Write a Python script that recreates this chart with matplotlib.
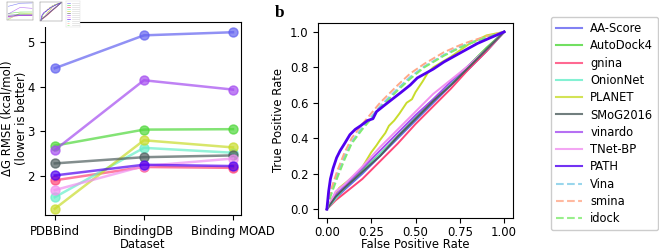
import matplotlib
matplotlib.use("Agg")
import matplotlib.pyplot as plt
from matplotlib.patches import Rectangle
from matplotlib.lines import Line2D

# ---------------- data ----------------
datasets = ["PDBBind", "BindingDB", "Binding MOAD"]
methods_a = ["AA-Score", "AutoDock4", "gnina", "OnionNet", "PLANET",
             "SMoG2016", "vinardo", "TNet-BP", "PATH"]
rmse_aa_score = [4.42, 5.16, 5.23]
rmse_autodock4 = [2.68, 3.04, 3.05]
rmse_gnina = [1.90, 2.20, 2.18]
rmse_onionnet = [1.52, 2.63, 2.52]
rmse_planet = [1.26, 2.80, 2.64]
rmse_smog2016 = [2.28, 2.42, 2.46]
rmse_vinardo = [2.58, 4.15, 3.94]
rmse_tnet_bp = [1.68, 2.22, 2.39]
rmse_path = [2.01, 2.25, 2.22]
rmse_values = [rmse_aa_score, rmse_autodock4, rmse_gnina, rmse_onionnet,
               rmse_planet, rmse_smog2016, rmse_vinardo, rmse_tnet_bp, rmse_path]

roc_methods = ["AA-Score", "AutoDock4", "gnina", "OnionNet", "PLANET",
               "SMoG2016", "vinardo", "TNet-BP", "PATH", "Vina", "smina", "idock"]
fpr_diag = [0, 0.05, 0.1, 0.2, 0.3, 0.4, 0.5, 0.6, 0.7, 0.8, 0.9, 1.0]
tpr_aa_score = [0, 0.06, 0.11, 0.20, 0.30, 0.40, 0.50, 0.60, 0.70, 0.79, 0.89, 1.0]
tpr_autodock4 = [0, 0.07, 0.12, 0.22, 0.31, 0.41, 0.51, 0.61, 0.71, 0.81, 0.91, 1.0]
tpr_gnina = [0, 0.05, 0.09, 0.17, 0.27, 0.37, 0.48, 0.58, 0.68, 0.79, 0.89, 1.0]
tpr_onionnet = [0, 0.06, 0.12, 0.21, 0.31, 0.41, 0.52, 0.62, 0.71, 0.81, 0.90, 1.0]
tpr_smog2016 = [0, 0.07, 0.12, 0.21, 0.30, 0.41, 0.51, 0.61, 0.70, 0.80, 0.90, 1.0]
tpr_vinardo = [0, 0.08, 0.13, 0.23, 0.33, 0.43, 0.53, 0.62, 0.72, 0.81, 0.90, 1.0]
tpr_tnet_bp = [0, 0.10, 0.14, 0.24, 0.35, 0.45, 0.55, 0.65, 0.73, 0.81, 0.90, 1.0]

fpr_planet = [0, 0.03, 0.07, 0.12, 0.19, 0.25, 0.28, 0.30, 0.33, 0.35, 0.38, 0.41,
              0.45, 0.48, 0.50, 0.54, 0.57, 0.60, 0.70, 0.80, 0.90, 1.0]
tpr_planet = [0, 0.06, 0.12, 0.16, 0.22, 0.32, 0.36, 0.39, 0.43, 0.47, 0.50, 0.54,
              0.60, 0.62, 0.66, 0.72, 0.77, 0.80, 0.86, 0.93, 0.98, 1.0]

fpr_path = [0, 0.01, 0.02, 0.035, 0.055, 0.075, 0.10, 0.13, 0.16, 0.19, 0.23, 0.26,
            0.28, 0.33, 0.42, 0.47, 0.51, 0.60, 0.66, 0.75, 0.85, 0.93, 1.0]
tpr_path = [0, 0.10, 0.17, 0.23, 0.29, 0.33, 0.37, 0.42, 0.45, 0.47, 0.50, 0.51,
            0.55, 0.59, 0.66, 0.70, 0.74, 0.79, 0.83, 0.88, 0.935, 0.97, 1.0]

fpr_dock = [0, 0.02, 0.06, 0.10, 0.14, 0.20, 0.25, 0.30, 0.40, 0.47, 0.55, 0.66,
            0.75, 0.81, 0.90, 1.0]
tpr_smina = [0, 0.10, 0.22, 0.32, 0.40, 0.48, 0.54, 0.60, 0.70, 0.765, 0.82, 0.885,
             0.925, 0.947, 0.975, 1.0]
tpr_vina = [0, 0.08, 0.20, 0.30, 0.38, 0.46, 0.52, 0.58, 0.68, 0.745, 0.805, 0.87,
            0.915, 0.94, 0.97, 1.0]
tpr_idock = [0, 0.07, 0.18, 0.28, 0.37, 0.45, 0.51, 0.57, 0.67, 0.735, 0.80, 0.865,
             0.91, 0.935, 0.968, 1.0]

roc_fprs = [fpr_diag, fpr_diag, fpr_diag, fpr_diag, fpr_planet, fpr_diag, fpr_diag,
            fpr_diag, fpr_path, fpr_dock, fpr_dock, fpr_dock]
roc_tprs = [tpr_aa_score, tpr_autodock4, tpr_gnina, tpr_onionnet, tpr_planet,
            tpr_smog2016, tpr_vinardo, tpr_tnet_bp, tpr_path, tpr_vina, tpr_smina, tpr_idock]

# ---------------- styles ----------------
colors = {
    "AA-Score": "#6262f0", "AutoDock4": "#4fd83a", "gnina": "#ff4477",
    "OnionNet": "#66eec8", "PLANET": "#c8dc2c", "SMoG2016": "#4e5e5e",
    "vinardo": "#a44cf0", "TNet-BP": "#f090f0", "PATH": "#5000f0",
    "Vina": "#80cce8", "smina": "#ffa888", "idock": "#80ec70",
}
styles = {"Vina": "--", "smina": "--", "idock": "--"}
roc_order_draw = ["AA-Score", "AutoDock4", "gnina", "OnionNet", "PLANET", "vinardo",
                  "TNet-BP", "SMoG2016", "Vina", "smina", "idock", "PATH"]

FS = 8.4
plt.rcParams["font.family"] = ["DejaVu Sans"]
plt.rcParams["font.size"] = FS

W, H = 659, 252
fig = plt.figure(figsize=(W / 100, H / 100), dpi=100)


def px_axes(x0, y0, x1, y1, **kw):
    return fig.add_axes([x0 / W, (H - y1) / H, (x1 - x0) / W, (y1 - y0) / H], **kw)


# ---------------- panel a ----------------
ax1 = px_axes(45, 22, 241, 215)
xpos = list(range(len(datasets)))
for name, vals in zip(methods_a, rmse_values):
    ax1.plot(xpos, vals, "-o", color=colors[name], lw=1.8, ms=6.5, alpha=0.7)
ax1.set_xlim(-0.11, 2.09)
ax1.set_ylim(1.12, 5.46)
ax1.set_xticks(xpos)
ax1.set_xticklabels(datasets)
ax1.set_yticks([2, 3, 4, 5])
ax1.tick_params(axis="x", pad=4)
ax1.tick_params(axis="y", pad=4)
ax1.set_xlabel("Dataset", fontsize=8.4)
ax1.xaxis.set_label_coords(0.5, -(238.5 - 215) / 193)
ax1.set_ylabel("ΔG RMSE (kcal/mol)\n(lower is better)", linespacing=1.1)
ax1.yaxis.set_label_coords(-(45 - 28) / 196, 0.5)

# ---------------- panel b ----------------
ax2 = px_axes(318, 23, 513, 218)
for name in roc_order_draw:
    i = roc_methods.index(name)
    lw = 2.0 if name == "PATH" else 1.4
    ax2.plot(roc_fprs[i], roc_tprs[i], styles.get(name, "-"), color=colors[name], lw=lw)
ax2.set_xlim(-0.05, 1.05)
ax2.set_ylim(-0.05, 1.05)
ax2.set_xticks([0, 0.25, 0.5, 0.75, 1.0])
ax2.set_xticklabels(["0.00", "0.25", "0.50", "0.75", "1.00"])
ax2.set_yticks([0, 0.2, 0.4, 0.6, 0.8, 1.0])
ax2.set_yticklabels(["0.0", "0.2", "0.4", "0.6", "0.8", "1.0"])
ax2.tick_params(axis="x", pad=2.5)
ax2.set_xlabel("False Positive Rate", fontsize=8.4)
ax2.xaxis.set_label_coords(0.5, -(238.5 - 218) / 195)
ax2.set_ylabel("True Positive Rate", labelpad=3)

fig.text(275 / W, 1 - 17 / H, "b", fontsize=12.5, fontweight="bold",
         family="Liberation Serif")

# ---------------- legend ----------------
leg_handles = [Line2D([], [], color=colors[n], ls=styles.get(n, "-"), lw=1.5, alpha=0.8)
               for n in roc_methods]
fig.legend(leg_handles, roc_methods, loc="upper left",
           bbox_to_anchor=(551 / W, 1 - 17 / H), borderaxespad=0,
           fontsize=8.3, labelspacing=0.37, handlelength=2.2, handletextpad=0.75,
           borderpad=0.45, framealpha=1, edgecolor="#cccccc")

# ---------------- thumbnail overlay (top-left) ----------------
fig.add_artist(Rectangle((0, 1 - 27 / H), 80 / W, 27 / H, transform=fig.transFigure,
                         facecolor="white", edgecolor="none", zorder=5))
t1 = px_axes(7, 2, 33, 20)
t1.set_zorder(6)
for name, vals in zip(methods_a, rmse_values):
    t1.plot(xpos, vals, "-", color=colors[name], lw=0.4, alpha=0.8)
t1.set_xlim(-0.11, 2.09)
t1.set_ylim(1.12, 5.46)
t2 = px_axes(40, 2, 62, 21)
t2.set_zorder(6)
for name in roc_order_draw:
    i = roc_methods.index(name)
    t2.plot(roc_fprs[i], roc_tprs[i], styles.get(name, "-"), color=colors[name], lw=0.4)
t2.set_xlim(-0.05, 1.05)
t2.set_ylim(-0.05, 1.05)
t3 = px_axes(66, 1, 80, 27)
t3.set_zorder(6)
t3.set_xlim(0, 1)
t3.set_ylim(len(roc_methods), -1)
for k, n in enumerate(roc_methods):
    t3.plot([0.08, 0.3], [k, k], styles.get(n, "-"), color=colors[n], lw=0.4)
    t3.plot([0.4, 0.9], [k, k], "-", color="#dddddd", lw=0.5)
for t in (t1, t2, t3):
    t.set_xticks([])
    t.set_yticks([])
    for s in t.spines.values():
        s.set_linewidth(0.3)
        s.set_color("#777777")
for s in t3.spines.values():
    s.set_color("#dddddd")

fig.savefig("out.png", dpi=100)
